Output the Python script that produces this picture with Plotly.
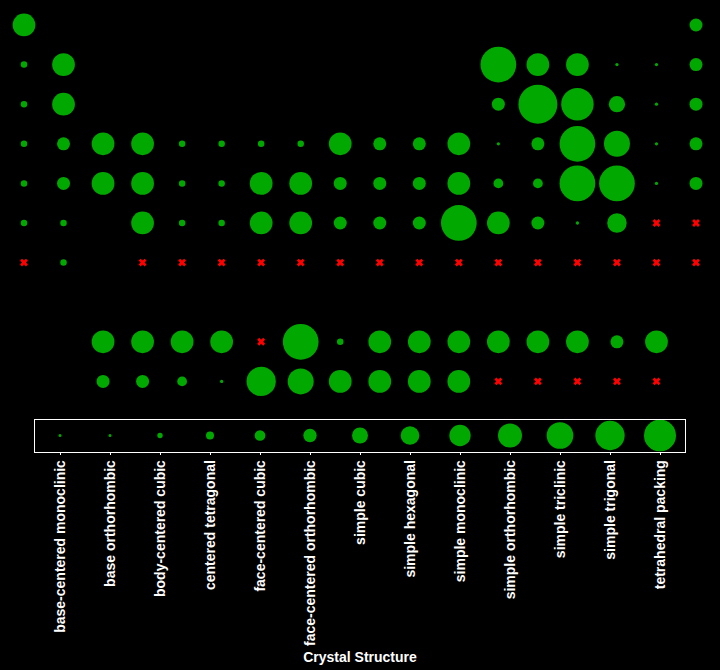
import plotly.graph_objects as go

# crystal structure categories (legend order)
structures = [
    "base-centered monoclinic", "base orthorhombic", "body-centered cubic",
    "centered tetragonal", "face-centered cubic", "face-centered orthorhombic",
    "simple cubic", "simple hexagonal", "simple monoclinic",
    "simple orthorhombic", "simple triclinic", "simple trigonal",
    "tetrahedral packing",
]

BCM, BO, BCC, CT, FCC, FCO, SC, SH, SM, SO, STC, STR, TP = structures

# element symbol, group (column), table row, structure (None = unknown)
symbols = [
    "H", "He",
    "Li", "Be", "B", "C", "N", "O", "F", "Ne",
    "Na", "Mg", "Al", "Si", "P", "S", "Cl", "Ar",
    "K", "Ca", "Sc", "Ti", "V", "Cr", "Mn", "Fe", "Co", "Ni", "Cu", "Zn", "Ga", "Ge", "As", "Se", "Br", "Kr",
    "Rb", "Sr", "Y", "Zr", "Nb", "Mo", "Tc", "Ru", "Rh", "Pd", "Ag", "Cd", "In", "Sn", "Sb", "Te", "I", "Xe",
    "Cs", "Ba", "Hf", "Ta", "W", "Re", "Os", "Ir", "Pt", "Au", "Hg", "Tl", "Pb", "Bi", "Po", "At", "Rn",
    "Fr", "Ra", "Rf", "Db", "Sg", "Bh", "Hs", "Mt", "Ds", "Rg", "Cn", "Nh", "Fl", "Mc", "Lv", "Ts", "Og",
    "La", "Ce", "Pr", "Nd", "Pm", "Sm", "Eu", "Gd", "Tb", "Dy", "Ho", "Er", "Tm", "Yb", "Lu",
    "Ac", "Th", "Pa", "U", "Np", "Pu", "Am", "Cm", "Bk", "Cf", "Es", "Fm", "Md", "No", "Lr",
]
groups = (
    [1, 18]
    + [1, 2] + list(range(13, 19))
    + [1, 2] + list(range(13, 19))
    + list(range(1, 19))
    + list(range(1, 19))
    + [1, 2] + list(range(4, 19))
    + [1, 2] + list(range(4, 19))
    + list(range(3, 18))
    + list(range(3, 18))
)
rows = (
    [1] * 2 + [2] * 8 + [3] * 8 + [4] * 18 + [5] * 18
    + [6] * 17 + [7] * 17 + [9] * 15 + [10] * 15
)
crystal = (
    [SH, FCC]
    + [BCC, SH, STR, SH, SH, BCM, BCM, FCC]
    + [BCC, SH, FCC, TP, STC, FCO, BO, FCC]
    + [BCC, FCC, SH, SH, BCC, BCC, BCC, BCC, SH, FCC, FCC, SH, BO, FCC, STR, SM, BO, FCC]
    + [BCC, FCC, SH, SH, BCC, BCC, SH, SH, FCC, FCC, FCC, SH, CT, CT, STR, STR, BO, FCC]
    + [BCC, BCC, SH, BCC, BCC, SH, SH, FCC, FCC, FCC, STR, SH, FCC, BCM, SC, None, None]
    + [None, BCC] + [None] * 15
    + [SH, SH, SH, SH, None, STR, BCC, SH, SH, SH, SH, SH, SH, FCC, SH]
    + [FCC, FCC, CT, BO, SO, SM, SH, SH, SH, SH, None, None, None, None, None]
)

GREEN = "rgb(0,168,0)"


def main_size(s):
    return max(3.3, 3.25 * structures.index(s))


def legend_size(s):
    return max(3.0, 32 * structures.index(s) / 12)


known = [i for i, c in enumerate(crystal) if c is not None]
unknown = [i for i, c in enumerate(crystal) if c is None]

fig = go.Figure()

fig.add_trace(go.Scatter(
    x=[groups[i] for i in known], y=[rows[i] for i in known],
    mode="markers",
    text=[symbols[i] + ": " + crystal[i] for i in known], hoverinfo="text",
    marker=dict(color=GREEN, size=[main_size(crystal[i]) for i in known],
                line=dict(width=0), opacity=1),
    showlegend=False,
))
fig.add_trace(go.Scatter(
    x=[groups[i] for i in unknown], y=[rows[i] for i in unknown],
    mode="markers",
    text=[symbols[i] for i in unknown], hoverinfo="text",
    marker=dict(color="red", size=7, symbol="x", line=dict(width=0)),
    showlegend=False,
))

# legend strip
fig.add_trace(go.Scatter(
    x=structures, y=[0] * len(structures),
    xaxis="x2", yaxis="y2", mode="markers",
    marker=dict(color=GREEN, size=[legend_size(s) for s in structures],
                line=dict(width=0), opacity=1),
    showlegend=False, hoverinfo="x",
))

W, H = 720, 670
fig.update_layout(
    width=W, height=H,
    margin=dict(l=0, r=0, t=0, b=0),
    paper_bgcolor="black", plot_bgcolor="black",
    font=dict(family="Liberation Sans, Arial, sans-serif", color="white"),
    xaxis=dict(domain=[0, 1], range=[0.393, 18.607], visible=False),
    yaxis=dict(domain=[1 - 400 / H, 1], range=[10.47, 0.369], visible=False),
    xaxis2=dict(
        domain=[35 / W, 685 / W], anchor="y2", range=[-0.5, 12.5],
        type="category", categoryorder="array", categoryarray=structures,
        showline=True, mirror=True, linecolor="white", linewidth=1,
        ticks="outside", ticklen=2, tickcolor="white",
        tickangle=-90, tickfont=dict(size=14, color="white", weight="bold"),
        showgrid=False, zeroline=False,
        title=dict(text="Crystal Structure", standoff=7,
                   font=dict(size=14, color="white", weight="bold")),
        automargin=False,
    ),
    yaxis2=dict(
        domain=[1 - 451.5 / H, 1 - 419.5 / H], anchor="x2", range=[-1, 1],
        showline=True, mirror=True, linecolor="white", linewidth=1,
        showticklabels=False, ticks="", showgrid=False, zeroline=False,
        automargin=False,
    ),
)

fig.write_html("out.html", config={"displayModeBar": False},
               post_script="document.body.style.margin='0';")
